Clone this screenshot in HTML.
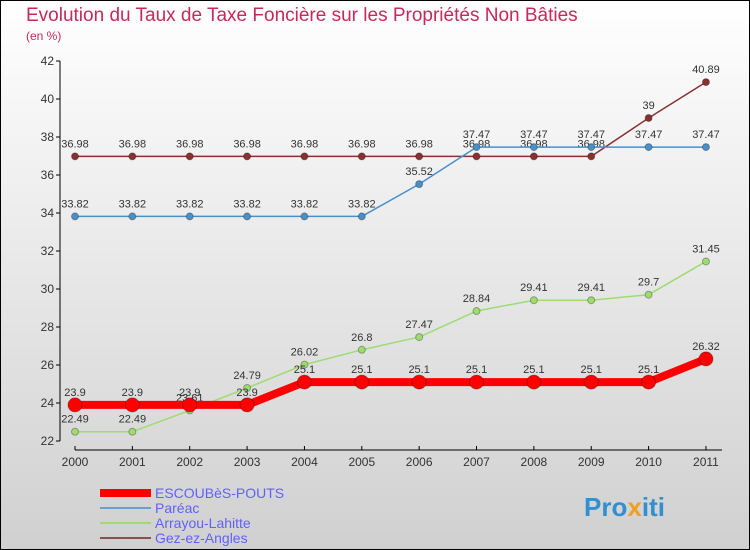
<!DOCTYPE html>
<html><head><meta charset="utf-8"><style>
body{margin:0;width:750px;height:550px;overflow:hidden}
svg{display:block;font-family:"Liberation Sans",sans-serif}
</style></head><body>
<svg width="750" height="550">
<defs><linearGradient id="bg" x1="0" y1="0" x2="0" y2="1"><stop offset="0" stop-color="#ffffff"/><stop offset="1" stop-color="#d0d0d0"/></linearGradient></defs>
<rect x="0.5" y="0.5" width="749" height="549" fill="url(#bg)" stroke="#000"/>
<text x="26" y="21" font-size="19" fill="#c8285a">Evolution du Taux de Taxe Foncière sur les Propriétés Non Bâties</text>
<text x="26" y="40" font-size="12" fill="#c8285a">(en %)</text>
<g id="axes"></g><g id="series"></g>
<g>
<rect x="100" y="489" width="51" height="8" fill="#f00"/>
<text x="155" y="498" font-size="14" fill="#6060ff">ESCOUBèS-POUTS</text>
<rect x="100" y="507" width="51" height="2" fill="#6aa0cf"/>
<text x="155" y="513" font-size="14" fill="#6060ff">Paréac</text>
<rect x="100" y="522" width="51" height="2" fill="#9edc70"/>
<text x="155" y="528" font-size="14" fill="#6060ff">Arrayou-Lahitte</text>
<rect x="100" y="537" width="51" height="2" fill="#8a5050"/>
<text x="155" y="543" font-size="14" fill="#6060ff">Gez-ez-Angles</text>
</g>
<text x="584" y="516" font-size="26" font-weight="bold" fill="#3090d0">Pro<tspan fill="#f0a020">x</tspan>iti</text>
</svg>
<script>
const years=[2000,2001,2002,2003,2004,2005,2006,2007,2008,2009,2010,2011];
const escoubes=[23.9,23.9,23.9,23.9,25.1,25.1,25.1,25.1,25.1,25.1,25.1,26.32];
const pareac=[33.82,33.82,33.82,33.82,33.82,33.82,35.52,37.47,37.47,37.47,37.47,37.47];
const arrayou=[22.49,22.49,23.61,24.79,26.02,26.8,27.47,28.84,29.41,29.41,29.7,31.45];
const gez=[36.98,36.98,36.98,36.98,36.98,36.98,36.98,36.98,36.98,36.98,39,40.89];
const yTicks=[22,24,26,28,30,32,34,36,38,40,42];
const X=i=>75+i*57.36, Y=v=>441-(v-22)*19;
const NS="http://www.w3.org/2000/svg";
const ax=document.getElementById('axes'), sg=document.getElementById('series');
function mk(p,t,a){const e=document.createElementNS(NS,t);for(const k in a)e.setAttribute(k,a[k]);p.appendChild(e);return e;}
let l=mk(ax,'line',{x1:60,y1:61,x2:60,y2:441,stroke:'#000'});


l=mk(ax,'line',{x1:75,y1:450,x2:722,y2:450,stroke:'#000'});


yTicks.forEach(v=>{
 const y=Y(v);
 mk(ax,'line',{x1:56,y1:y,x2:60,y2:y,stroke:'#000'});
 mk(ax,'line',{x1:62,y1:y,x2:722,y2:y,stroke:'#fff','stroke-dasharray':'0'}).setAttribute('opacity','0');
 const t=mk(ax,'text',{x:54,y:y+4,'font-size':12,'text-anchor':'end',fill:'#333'});
 t.textContent=v;
 
 
});
years.forEach((yr,i)=>{
 const x=X(i);
 mk(ax,'line',{x1:x,y1:446,x2:x,y2:450,stroke:'#000'});
 const t=mk(ax,'text',{x:x,y:466,'font-size':12,'text-anchor':'middle',fill:'#333'});
 t.textContent=yr;
 
 
});
function series(vals,color,w,r,name){
 const g=mk(sg,'g',{});
 
 
 const p=mk(g,'polyline',{points:vals.map((v,i)=>X(i)+','+Y(v)).join(' '),fill:'none',stroke:color,'stroke-width':w,'stroke-linejoin':'round'});
 
 
 vals.forEach((v,i)=>{
  const c=mk(g,'circle',{cx:X(i),cy:Y(v),r:r,fill:color,stroke:'rgba(0,0,0,0.3)','stroke-width':1});
  
  
  const t=mk(g,'text',{x:X(i),y:Y(v)-9,'font-size':11,'text-anchor':'middle',fill:'#333'});
  t.textContent=v;
  
  
 });
}
series(gez,'#8a3030',1.5,3.5,'gez');
series(pareac,'#4a90c8',1.5,3.5,'pareac');
series(arrayou,'#9edc70',1.5,3.5,'arrayou');
series(escoubes,'#ff0000',8,7,'escoubes');
</script>
</body></html>
